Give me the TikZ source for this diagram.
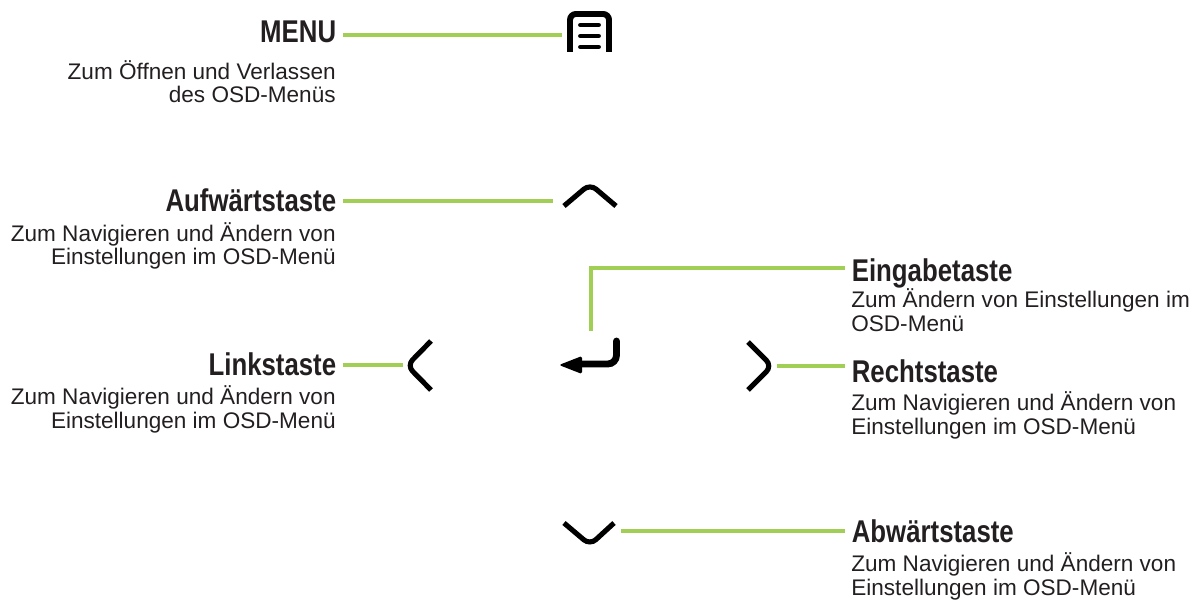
\documentclass[tikz,border=0pt]{standalone}
\usepackage{fontspec}
\setmainfont{Liberation Sans}
\newfontfamily\titlefont[FakeStretch=0.82]{Liberation Sans Bold}
\definecolor{keygreen}{RGB}{161,207,85}
\definecolor{txt}{RGB}{35,31,32}

\begin{document}
\begin{tikzpicture}[x=0.02cm, y=-0.02cm,
    title/.style={inner xsep=0.13cm, inner ysep=0pt, text=txt, font=\titlefont\fontsize{17.9}{20}\selectfont},
    info/.style={inner sep=0pt, text=txt, font=\fontsize{12.84}{13.6}\selectfont},
    link/.style={keygreen, line width=2pt},
    icon/.style={line width=2.9pt, rounded corners=4.5pt}]
    \useasboundingbox (0,0) rectangle (1200,601);

    % MENU
    \draw[line width=3.4pt, rounded corners=3.4pt] (570,52) -- (570,14) -- (609,14) -- (609,52);
    \foreach \y in {25,36,47}
        \draw[line width=2.8pt, line cap=round] (580.5,\y) -- (598.5,\y);
    \node[title, anchor=base east] (menu) at (343,43) {MENU};
    \node[info, anchor=base east, align=right] (menutext) at (336,103) {Zum Öffnen und Verlassen\\des OSD-Menüs};
    \coordinate (menuend) at (562,35);
    \draw[link] (menuend -| menu.east) -- (menuend);

    % up
    \draw[icon] (564,206) -- (590,184) -- (616,206);
    \node[title, anchor=base east] (up) at (343,212) {Aufwärtstaste};
    \node[info, anchor=base east, align=right] (uptext) at (336,265) {Zum Navigieren und Ändern von\\Einstellungen im OSD-Menü};
    \coordinate (upend) at (553,201);
    \draw[link] (upend -| up.east) -- (upend);

    % left
    \draw[icon] (431,341) -- (407,365.5) -- (431,390);
    \node[title, anchor=base east] (left) at (343,375) {Linkstaste};
    \node[info, anchor=base east, align=right] (lefttext) at (336,428) {Zum Navigieren und Ändern von\\Einstellungen im OSD-Menü};
    \coordinate (leftend) at (403,365);
    \draw[link] (leftend -| left.east) -- (leftend);

    % enter
    \draw[line width=3.9pt, line cap=round, rounded corners=5pt] (616.5,341) -- (616.5,364) -- (580,364);
    \fill[rounded corners=1pt] (582,356) -- (559,365) -- (582,374) -- cycle;
    \node[title, anchor=base west] (enter) at (845,281) {Eingabetaste};
    \node[info, anchor=base west, align=left] (entertext) at (851,331) {Zum Ändern von Einstellungen im\\OSD-Menü};
    \coordinate (enterend) at (591,331);
    \draw[link] (enterend) |- (enterend |- 0,268) -- (enter.west |- 0,268);

    % right
    \draw[icon] (748,342) -- (772,366) -- (748,390);
    \node[title, anchor=base west] (right) at (845,382) {Rechtstaste};
    \node[info, anchor=base west, align=left] (righttext) at (851,434) {Zum Navigieren und Ändern von\\Einstellungen im OSD-Menü};
    \coordinate (rightend) at (777,366);
    \draw[link] (rightend) -- (rightend -| right.west);

    % down
    \draw[icon] (564,523) -- (590,545) -- (614,523);
    \node[title, anchor=base west] (down) at (845,542) {Abwärtstaste};
    \node[info, anchor=base west, align=left] (downtext) at (851,595) {Zum Navigieren und Ändern von\\Einstellungen im OSD-Menü};
    \coordinate (downend) at (621,531);
    \draw[link] (downend) -- (downend -| down.west);
\end{tikzpicture}
\end{document}
